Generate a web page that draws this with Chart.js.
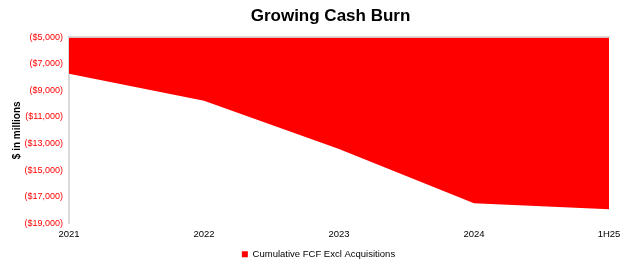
<!DOCTYPE html>
<html>
<head>
<meta charset="utf-8">
<script src="https://cdn.jsdelivr.net/npm/chart.js@4/dist/chart.umd.min.js"></script>
<style>
  html, body { margin: 0; padding: 0; background: #fff; }
  #wrap { width: 630px; height: 266px; }
</style>
</head>
<body>
<div id="wrap"><canvas id="myChart" width="630" height="266"></canvas></div>
<script>
"use strict";
const periods = ['2021', '2022', '2023', '2024', '1H25'];
const cumulativeFcf = [-7740, -9770, -13420, -17500, -17960];
const yTicks = [-5000, -7000, -9000, -11000, -13000, -15000, -17000, -19000];

const fmtParen = (v) => '($' + Math.abs(v).toLocaleString('en-US') + ')';

// Excel centres title and legend a bit right of the canvas centre
const shiftBlocks = {
    id: 'shiftBlocks',
    afterLayout(chart) {
        if (chart.titleBlock) { chart.titleBlock.left += 24; chart.titleBlock.right += 24; }
        if (chart.legend) {
            chart.legend.left += 12; chart.legend.right += 12;
            chart.legend.top += 3; chart.legend.bottom += 3;
        }
    }
};

document.addEventListener('DOMContentLoaded', () => {
    const canvas = document.getElementById('myChart');
    const ctx = canvas.getContext('2d');
    Chart.defaults.font.family = '"Liberation Sans", Arial, sans-serif';
    Chart.defaults.color = '#000';

    new Chart(ctx, {
        type: 'line',
        data: {
            labels: periods,
            datasets: [{
                label: 'Cumulative FCF Excl Acquisitions',
                data: cumulativeFcf,
                borderWidth: 0,
                borderColor: '#ff0000',
                backgroundColor: '#ff0000',
                pointRadius: 0,
                tension: 0,
                fill: 'end'
            }]
        },
        plugins: [shiftBlocks],
        options: {
            responsive: false,
            animation: false,
            layout: { padding: { left: 4, right: 21, top: 0, bottom: 0 } },
            plugins: {
                title: {
                    display: true,
                    text: 'Growing Cash Burn',
                    font: { size: 17, weight: 'bold' },
                    color: '#000',
                    padding: { top: 6, bottom: 11 }
                },
                legend: {
                    position: 'bottom',
                    labels: {
                        boxWidth: 6,
                        boxHeight: 6,
                        font: { size: 9.5 },
                        color: '#000',
                        padding: 1
                    }
                },
                tooltip: { enabled: false }
            },
            scales: {
                x: {
                    offset: false,
                    grid: { display: false, drawTicks: false },
                    border: { display: false },
                    ticks: { font: { size: 9.5 }, color: '#000', padding: 5.5, maxRotation: 0 }
                },
                xTop: {
                    position: 'top',
                    labels: periods,
                    type: 'category',
                    offset: false,
                    grid: { display: false, drawTicks: false },
                    border: { display: true, color: '#d9d9d9', width: 2 },
                    ticks: { display: false }
                },
                y: {
                    min: -19000,
                    max: -5000,
                    afterBuildTicks: (axis) => { axis.ticks = yTicks.map(v => ({ value: v })); },
                    afterFit: (axis) => { axis.width = 65; },
                    grid: { display: false, drawTicks: false },
                    border: { display: true, color: '#d9d9d9', width: 2 },
                    title: {
                        display: true,
                        text: '$ in millions',
                        font: { size: 10, weight: 'bold' },
                        color: '#000',
                        padding: { top: 7, bottom: 0 }
                    },
                    ticks: {
                        font: { size: 9 },
                        color: '#ff0000',
                        padding: 6,
                        callback: (v) => fmtParen(v)
                    }
                }
            }
        }
    });
});
</script>
</body>
</html>
